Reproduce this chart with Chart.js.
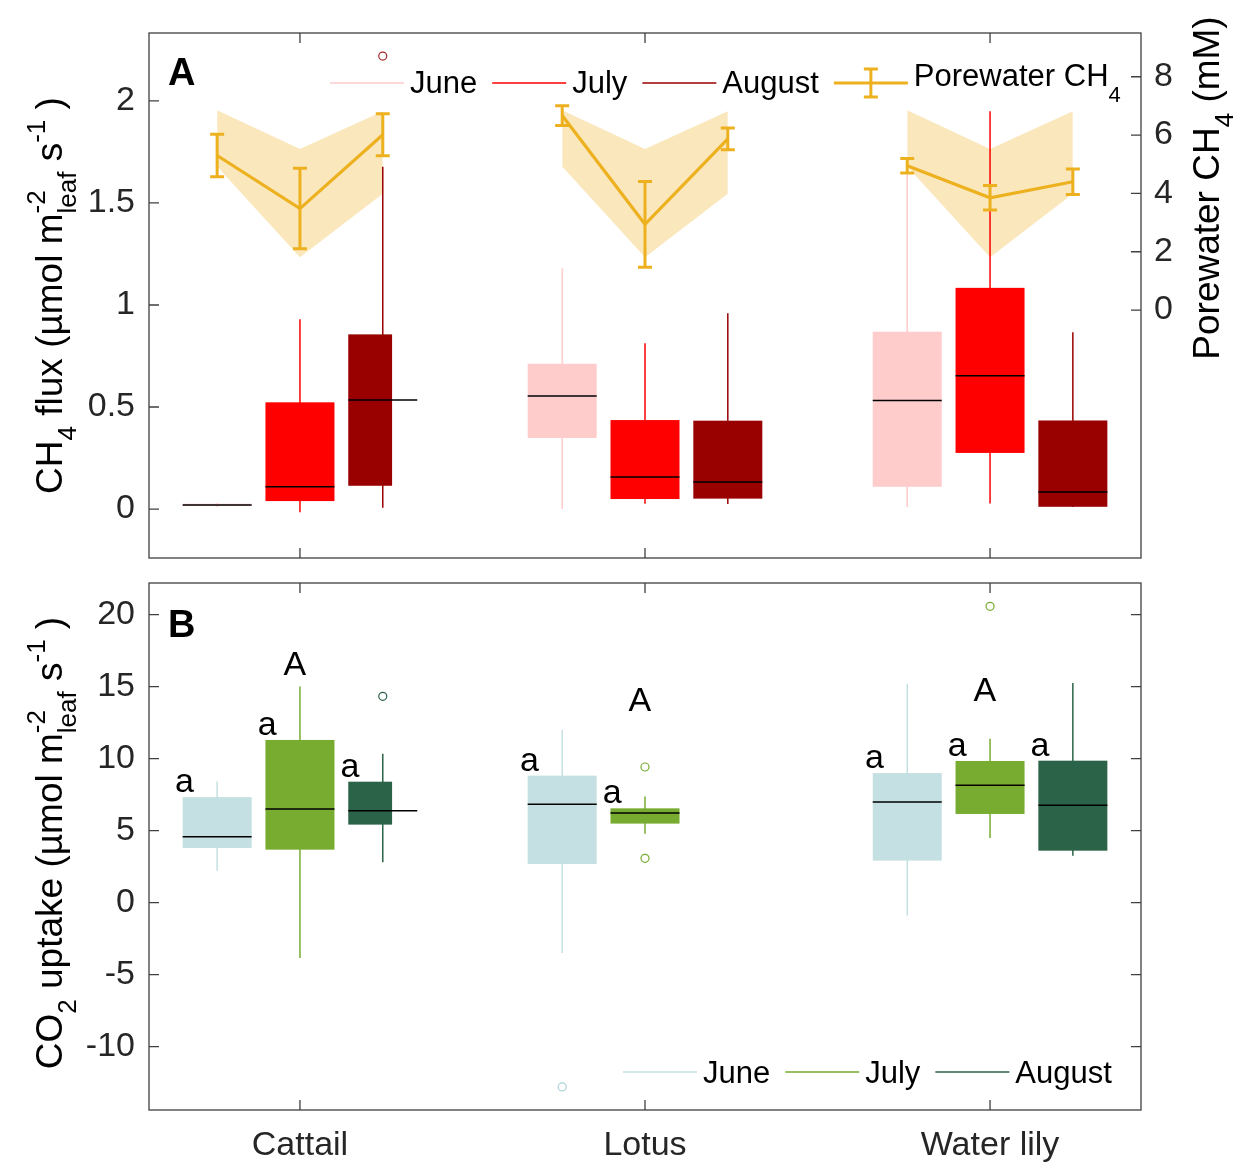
<!DOCTYPE html>
<html>
<head>
<meta charset="utf-8">
<title>CH4 flux and CO2 uptake</title>
<script src="https://cdn.jsdelivr.net/npm/chart.js@4.4.1/dist/chart.umd.min.js"></script>
<style>
html,body{margin:0;padding:0;background:#ffffff;}
#wrap{position:relative;width:1248px;height:1168px;overflow:hidden;background:#fff;}
canvas{position:absolute;left:0;}
#chartA{top:0;}
#chartB{top:570px;}
</style>
</head>
<body>
<div id="wrap">
<canvas id="chartA" width="1248" height="570"></canvas>
<canvas id="chartB" width="1248" height="598"></canvas>
</div>
<script>
// ---------------- DATA ----------------
const species = ['Cattail', 'Lotus', 'Water lily'];
const months = ['June', 'July', 'August'];

const ch4Ticks = [0, 0.5, 1, 1.5, 2];
const porewaterTicks = [0, 2, 4, 6, 8];
const co2Ticks = [-10, -5, 0, 5, 10, 15, 20];

// Panel A: CH4 flux box statistics [min, q1, median, q3, max], one per species
const ch4June   = [[0.010, 0.015, 0.020, 0.026, 0.030], [0.000, 0.348, 0.554, 0.712, 1.180], [0.010, 0.109, 0.532, 0.869, 1.700]];
const ch4July   = [[-0.016, 0.039, 0.109, 0.523, 0.930], [0.026, 0.049, 0.157, 0.436, 0.812], [0.027, 0.275, 0.653, 1.084, 1.949]];
const ch4August = [[0.006, 0.114, 0.534, 0.856, 1.678], [0.025, 0.051, 0.132, 0.433, 0.959], [0.010, 0.011, 0.084, 0.434, 0.867]];
const ch4OutliersJune   = [[], [], []];
const ch4OutliersJuly   = [[], [], []];
const ch4OutliersAugust = [[2.22], [], []];

// Porewater CH4 (mM): mean and error bar per month (June, July, August)
const pwCattail      = [5.30, 3.48, 6.01];
const pwCattailErr   = [0.73, 1.38, 0.72];
const pwLotus        = [6.67, 2.94, 5.87];
const pwLotusErr     = [0.34, 1.47, 0.37];
const pwWaterLily    = [4.95, 3.85, 4.40];
const pwWaterLilyErr = [0.25, 0.42, 0.44];
// shaded porewater range per month
const pwRangeHigh = [6.85, 5.52, 6.82];
const pwRangeLow  = [4.92, 1.81, 3.99];

// Panel B: CO2 uptake box statistics [min, q1, median, q3, max]
const co2June   = [[2.22, 3.80, 4.58, 7.33, 8.42], [-3.49, 2.69, 6.83, 8.82, 12.01], [-0.90, 2.92, 6.99, 9.00, 15.21]];
const co2July   = [[-3.85, 3.68, 6.51, 11.30, 15.02], [4.79, 5.49, 6.23, 6.55, 7.38], [4.49, 6.16, 8.15, 9.84, 11.39]];
const co2August = [[2.80, 5.42, 6.39, 8.40, 10.35], null, [3.26, 3.61, 6.76, 9.86, 15.26]];
const co2OutliersJune   = [[], [-12.8], []];
const co2OutliersJuly   = [[], [9.42, 3.08], [20.58]];
const co2OutliersAugust = [[14.33], [], []];
// significance letters
const co2BoxLetter = 'a';
const co2SpeciesLetter = ['A', 'A', 'A'];
const co2SpeciesLetterValue = [15.83, 13.28, 13.98];

// ---------------- STYLE ----------------
const FONT = '"Liberation Sans", Arial, Helvetica, sans-serif';
const TICK_COLOR = '#262626';
const AXIS_COLOR = '#404040';
const ch4Colors = ['#FFCCCC', '#FF0000', '#990000'];
const co2Colors = ['#C4E0E2', '#77AC30', '#2A6347'];
const ch4OutlierColors = ['#FFB0B0', '#FF2020', '#A52A2A'];
const co2OutlierColors = ['#A9D3D6', '#77AC30', '#2A6347'];
const PW_COLOR = '#EDB120';
const BAND_COLOR = 'rgba(237,177,32,0.30)';
const MONTH_OFFSET = [-0.24, 0, 0.24];
const BOX_HALF = 0.1;
const X_MIN = 0.5625, X_MAX = 3.4375;
const TICK_SIZE = 34, TITLE_SIZE = 37, LEGEND_SIZE = 31, NOTE_SIZE = 34;

function xPos(s, m) { return s + 1 + MONTH_OFFSET[m]; }

const porewaterMeans = [pwCattail, pwLotus, pwWaterLily];
const porewaterErrs = [pwCattailErr, pwLotusErr, pwWaterLilyErr];

// ---------------- PLUGINS ----------------
function drawBoxes(chart, o) {
  const ctx = chart.ctx, a = chart.chartArea;
  const xs = chart.scales.x, ys = chart.scales.y;
  ctx.save();
  ctx.beginPath(); ctx.rect(a.left, a.top, a.right - a.left, a.bottom - a.top); ctx.clip();
  o.groups.forEach((grp, m) => grp.forEach((st, s) => {
    if (!st) return;
    const c = xPos(s, m);
    const cx = xs.getPixelForValue(c);
    const l = xs.getPixelForValue(c - BOX_HALF), r = xs.getPixelForValue(c + BOX_HALF);
    const trim = (o.trim || []).find(t => t.month === m && t.species === s);
    const rb = trim ? xs.getPixelForValue(c + trim.right) : r;
    const p = st.map(v => ys.getPixelForValue(v));
    ctx.strokeStyle = o.colors[m]; ctx.lineWidth = 1.5;
    ctx.beginPath(); ctx.moveTo(cx, p[0]); ctx.lineTo(cx, p[4]); ctx.stroke();
    ctx.fillStyle = o.colors[m];
    ctx.fillRect(l, p[3], rb - l, Math.max(p[1] - p[3], 1.5));
    ctx.strokeStyle = '#000'; ctx.lineWidth = 1.5;
    ctx.beginPath(); ctx.moveTo(l, p[2]); ctx.lineTo(r, p[2]); ctx.stroke();
  }));
  ctx.restore();
}
const boxPlugin = {
  id: 'boxes',
  beforeDatasetsDraw(chart, args, o) { if (!o.beforeLabel) drawBoxes(chart, o); },
  beforeDatasetDraw(chart, args, o) {
    if (o.beforeLabel && chart.data.datasets[args.index].label === o.beforeLabel) drawBoxes(chart, o);
  }
};

const errorBarPlugin = {
  id: 'errorBars',
  afterDatasetDraw(chart, args) {
    if (chart.data.datasets[args.index].label !== 'Porewater CH4') return;
    const ctx = chart.ctx, xs = chart.scales.x, ys = chart.scales.y2;
    ctx.save(); ctx.strokeStyle = PW_COLOR; ctx.lineWidth = 3;
    porewaterMeans.forEach((means, s) => means.forEach((v, m) => {
      const e = porewaterErrs[s][m];
      const px = xs.getPixelForValue(xPos(s, m));
      const t = ys.getPixelForValue(v + e), b = ys.getPixelForValue(v - e);
      ctx.beginPath();
      ctx.moveTo(px, t); ctx.lineTo(px, b);
      ctx.moveTo(px - 7, t); ctx.lineTo(px + 7, t);
      ctx.moveTo(px - 7, b); ctx.lineTo(px + 7, b);
      ctx.stroke();
    }));
    ctx.restore();
  }
};

const framePlugin = {
  id: 'frame',
  afterDraw(chart, args, o) {
    const ctx = chart.ctx, a = chart.chartArea, L = 10;
    ctx.save();
    ctx.strokeStyle = AXIS_COLOR; ctx.lineWidth = 1.3;
    ctx.strokeRect(a.left, a.top, a.right - a.left, a.bottom - a.top);
    ctx.beginPath();
    const xs = chart.scales.x;
    species.forEach((_, i) => {
      const px = xs.getPixelForValue(i + 1);
      ctx.moveTo(px, a.bottom); ctx.lineTo(px, a.bottom - L);
      ctx.moveTo(px, a.top); ctx.lineTo(px, a.top + L);
    });
    const ys = chart.scales.y;
    ys.ticks.forEach(t => { const py = ys.getPixelForValue(t.value); ctx.moveTo(a.left, py); ctx.lineTo(a.left + L, py); });
    const rs = chart.scales[o.rightScale];
    rs.ticks.forEach(t => { const py = rs.getPixelForValue(t.value); ctx.moveTo(a.right, py); ctx.lineTo(a.right - L, py); });
    ctx.stroke();
    ctx.restore();
  }
};

function drawRich(ctx, parts, x, y, size, rot) {
  const S = Math.round(size * 0.7);
  ctx.save();
  ctx.translate(x, y); ctx.rotate(rot);
  ctx.textAlign = 'left'; ctx.textBaseline = 'alphabetic'; ctx.fillStyle = '#000';
  let w = 0;
  parts.forEach(p => {
    if (p.t !== undefined) { ctx.font = size + 'px ' + FONT; w += ctx.measureText(p.t).width; }
    else { ctx.font = S + 'px ' + FONT; w += Math.max(p.sup ? ctx.measureText(p.sup).width : 0, p.sub ? ctx.measureText(p.sub).width : 0); }
  });
  let cx = -w / 2;
  parts.forEach(p => {
    if (p.t !== undefined) {
      ctx.font = size + 'px ' + FONT; ctx.fillText(p.t, cx, 0); cx += ctx.measureText(p.t).width;
    } else {
      ctx.font = S + 'px ' + FONT;
      if (p.sup) ctx.fillText(p.sup, cx, -size * 0.45);
      if (p.sub) ctx.fillText(p.sub, cx, size * 0.38);
      cx += Math.max(p.sup ? ctx.measureText(p.sup).width : 0, p.sub ? ctx.measureText(p.sub).width : 0);
    }
  });
  ctx.restore();
}

function drawLegend(ctx, o) {
  let x = o.x;
  ctx.save(); ctx.textAlign = 'left'; ctx.textBaseline = 'alphabetic';
  o.items.forEach(it => {
    ctx.strokeStyle = it.color; ctx.lineWidth = it.lineWidth;
    ctx.beginPath(); ctx.moveTo(x, o.lineY); ctx.lineTo(x + o.lineLen, o.lineY); ctx.stroke();
    if (it.errorBar) {
      const cx = x + o.lineLen / 2;
      ctx.beginPath();
      ctx.moveTo(cx, o.lineY - 14); ctx.lineTo(cx, o.lineY + 14);
      ctx.moveTo(cx - 7, o.lineY - 14); ctx.lineTo(cx + 7, o.lineY - 14);
      ctx.moveTo(cx - 7, o.lineY + 14); ctx.lineTo(cx + 7, o.lineY + 14);
      ctx.stroke();
    }
    x += o.lineLen + o.gapText;
    ctx.fillStyle = '#000'; ctx.font = o.size + 'px ' + FONT;
    const base = o.textY - (it.sub ? o.subRaise : 0);
    ctx.fillText(it.text, x, base); x += ctx.measureText(it.text).width;
    if (it.sub) {
      ctx.font = Math.round(o.size * 0.7) + 'px ' + FONT;
      ctx.fillText(it.sub, x, base + o.size * 0.5); x += ctx.measureText(it.sub).width;
    }
    x += o.gapAfter;
  });
  ctx.restore();
}

const textPlugin = {
  id: 'texts',
  afterDraw(chart, args, o) {
    const ctx = chart.ctx;
    ctx.save();
    ctx.fillStyle = '#000'; ctx.textAlign = 'left'; ctx.textBaseline = 'alphabetic';
    ctx.font = 'bold 38px ' + FONT;
    ctx.fillText(o.panel, o.panelX, o.panelY);
    ctx.restore();
    o.titles.forEach(t => drawRich(ctx, t.parts, t.x, t.y, TITLE_SIZE, -Math.PI / 2));
    if (o.legend) drawLegend(ctx, o.legend);
    if (o.letters) {
      const xs = chart.scales.x, ys = chart.scales.y;
      ctx.save(); ctx.fillStyle = '#000'; ctx.textAlign = 'center'; ctx.textBaseline = 'alphabetic';
      ctx.font = NOTE_SIZE + 'px ' + FONT;
      o.letters.groups.forEach((grp, m) => grp.forEach((st, s) => {
        if (!st) return;
        ctx.fillText(co2BoxLetter, xs.getPixelForValue(xPos(s, m) - 0.095), ys.getPixelForValue(st[3]) - 5);
      }));
      co2SpeciesLetter.forEach((L, s) => {
        ctx.fillText(L, xs.getPixelForValue(s + 1 - 0.015), ys.getPixelForValue(co2SpeciesLetterValue[s]));
      });
      ctx.restore();
    }
  }
};

function outlierDatasets(outs, colors) {
  return outs.map((arr, m) => ({
    type: 'scatter',
    label: 'outliers ' + months[m],
    data: arr.flatMap((vals, s) => vals.map(v => ({ x: xPos(s, m), y: v }))),
    yAxisID: 'y',
    pointStyle: 'circle', pointRadius: 4, pointHoverRadius: 4, pointBorderWidth: 1.2,
    pointBorderColor: colors[m], pointBackgroundColor: 'rgba(0,0,0,0)',
    order: 0
  }));
}

function yAxis(min, max, ticks, pos, width, pad) {
  return {
    type: 'linear', position: pos, min: min, max: max,
    afterBuildTicks: s => { s.ticks = ticks.map(v => ({ value: v })); },
    ticks: { font: { family: FONT, size: TICK_SIZE }, color: TICK_COLOR, padding: pad, callback: v => String(v) },
    grid: { display: false }, border: { display: false },
    afterFit: s => { s.width = width; s.paddingTop = 0; s.paddingBottom = 0; }
  };
}

// ---------------- CHART A ----------------
const dsA = outlierDatasets([ch4OutliersJune, ch4OutliersJuly, ch4OutliersAugust], ch4OutlierColors);
const pwData = [];
porewaterMeans.forEach((means, s) => {
  means.forEach((v, m) => pwData.push({ x: xPos(s, m), y: v }));
  if (s < species.length - 1) pwData.push({ x: s + 1.5, y: null });
});
dsA.push({
  type: 'line', label: 'Porewater CH4', data: pwData, yAxisID: 'y2',
  borderColor: PW_COLOR, borderWidth: 3.2, pointRadius: 0, pointHoverRadius: 0, spanGaps: false, fill: false, order: 1
});
species.forEach((sp, s) => {
  dsA.push({
    type: 'line', label: 'range high ' + sp, yAxisID: 'y2', order: 10,
    data: months.map((_, m) => ({ x: xPos(s, m), y: pwRangeHigh[m] })),
    borderWidth: 0, borderColor: 'rgba(0,0,0,0)', pointRadius: 0, pointHoverRadius: 0, fill: false
  });
  dsA.push({
    type: 'line', label: 'range low ' + sp, yAxisID: 'y2', order: 10,
    data: months.map((_, m) => ({ x: xPos(s, m), y: pwRangeLow[m] })),
    borderWidth: 0, borderColor: 'rgba(0,0,0,0)', pointRadius: 0, pointHoverRadius: 0,
    fill: '-1', backgroundColor: BAND_COLOR
  });
});

new Chart(document.getElementById('chartA'), {
  type: 'scatter',
  data: { datasets: dsA },
  options: {
    responsive: false, animation: false, devicePixelRatio: 1, events: [],
    layout: { padding: { top: 33, bottom: 12, left: 0, right: 0 } },
    plugins: {
      legend: { display: false }, tooltip: { enabled: false },
      boxes: { groups: [ch4June, ch4July, ch4August], colors: ch4Colors, beforeLabel: 'Porewater CH4',
               trim: [{ month: 2, species: 0, right: 0.027 }] },
      frame: { rightScale: 'y2' },
      texts: {
        panel: 'A', panelX: 168, panelY: 85,
        titles: [
          { parts: [{ t: 'CH' }, { sub: '4' }, { t: ' flux (µmol m' }, { sup: '-2', sub: 'leaf' }, { t: ' s' }, { sup: '-1' }, { t: ' )' }], x: 62, y: 295.5 },
          { parts: [{ t: 'Porewater CH' }, { sub: '4' }, { t: ' (mM)' }], x: 1219, y: 188 }
        ],
        legend: {
          x: 330, lineY: 83, textY: 93, lineLen: 74, gapText: 6, gapAfter: 15, size: LEGEND_SIZE, subRaise: 7,
          items: [
            { text: months[0], color: ch4Colors[0], lineWidth: 1.5 },
            { text: months[1], color: ch4Colors[1], lineWidth: 1.5 },
            { text: months[2], color: ch4Colors[2], lineWidth: 1.5 },
            { text: 'Porewater CH', sub: '4', color: PW_COLOR, lineWidth: 3, errorBar: true }
          ]
        }
      }
    },
    scales: {
      x: { type: 'linear', min: X_MIN, max: X_MAX, display: false },
      y: yAxis(-0.24, 2.333, ch4Ticks, 'left', 149, 6),
      y2: yAxis(-8.5, 9.5, porewaterTicks, 'right', 107, 5)
    }
  },
  plugins: [boxPlugin, errorBarPlugin, framePlugin, textPlugin]
});

// ---------------- CHART B ----------------
const dsB = outlierDatasets([co2OutliersJune, co2OutliersJuly, co2OutliersAugust], co2OutlierColors);

new Chart(document.getElementById('chartB'), {
  type: 'scatter',
  data: { datasets: dsB },
  options: {
    responsive: false, animation: false, devicePixelRatio: 1, events: [],
    layout: { padding: { top: 13, bottom: 0, left: 0, right: 107 } },
    plugins: {
      legend: { display: false }, tooltip: { enabled: false },
      boxes: { groups: [co2June, co2July, co2August], colors: co2Colors,
               trim: [{ month: 2, species: 0, right: 0.027 }] },
      frame: { rightScale: 'y' },
      texts: {
        panel: 'B', panelX: 168, panelY: 67,
        titles: [
          { parts: [{ t: 'CO' }, { sub: '2' }, { t: ' uptake (µmol m' }, { sup: '-2', sub: 'leaf' }, { t: ' s' }, { sup: '-1' }, { t: ' )' }], x: 62, y: 273 }
        ],
        legend: {
          x: 623, lineY: 502, textY: 513, lineLen: 74, gapText: 6, gapAfter: 15, size: LEGEND_SIZE, subRaise: 0,
          items: [
            { text: months[0], color: co2Colors[0], lineWidth: 1.5 },
            { text: months[1], color: co2Colors[1], lineWidth: 1.5 },
            { text: months[2], color: co2Colors[2], lineWidth: 1.5 }
          ]
        },
        letters: { groups: [co2June, co2July, co2August] }
      }
    },
    scales: {
      x: {
        type: 'linear', position: 'bottom', min: X_MIN, max: X_MAX,
        afterBuildTicks: s => { s.ticks = species.map((_, i) => ({ value: i + 1 })); },
        ticks: { font: { family: FONT, size: TICK_SIZE }, color: TICK_COLOR, padding: 7, maxRotation: 0, autoSkip: false,
                 callback: v => species[Math.round(v) - 1] },
        grid: { display: false }, border: { display: false },
        afterFit: s => { s.height = 58; s.paddingLeft = 0; s.paddingRight = 0; }
      },
      y: yAxis(-14.4, 22.2, co2Ticks, 'left', 149, 6)
    }
  },
  plugins: [boxPlugin, framePlugin, textPlugin]
});
</script>
</body>
</html>
